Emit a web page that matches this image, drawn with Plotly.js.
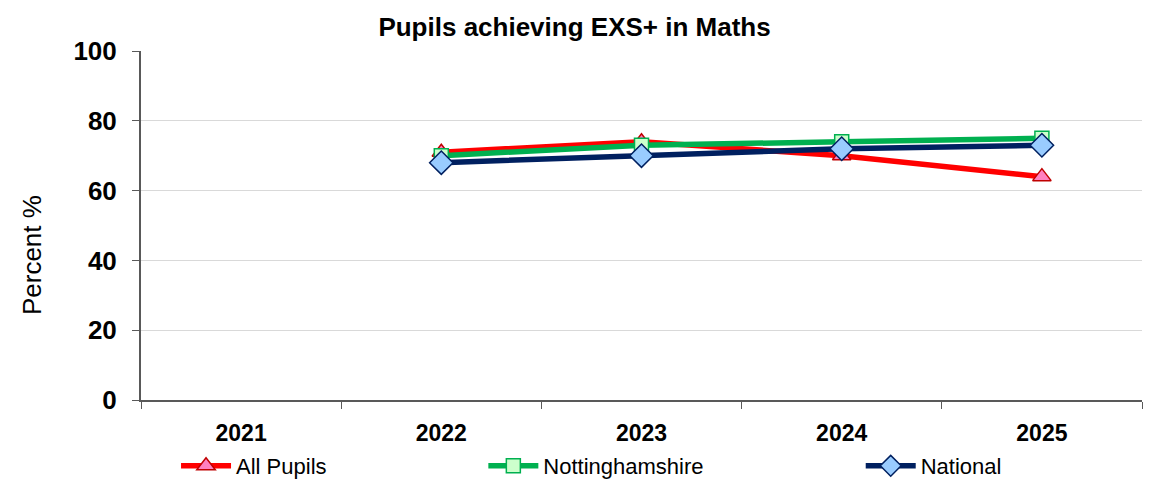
<!DOCTYPE html>
<html>
<head>
<meta charset="utf-8">
<script src="https://cdn.plot.ly/plotly-3.0.1.min.js"></script>
<style>html,body{margin:0;padding:0;background:#fff;}#chart{width:1156px;height:485px;}</style>
</head>
<body>
<div id="chart"></div>
<script>
const years = ['2021', '2022', '2023', '2024', '2025'];
const allPupils = [null, 71, 74, 70, 64];
const nottinghamshire = [null, 70, 73, 74, 75];
const national = [null, 68, 70, 72, 73];
const yTicks = [0, 20, 40, 60, 80, 100];
const yTitle = 'Percent %';

const FONT = 'Liberation Sans, Arial, sans-serif';

const traces = [
  {
    x: years, y: allPupils, name: 'All Pupils', type: 'scatter', mode: 'lines+markers',
    line: {color: '#FF0000', width: 5.5},
    marker: {symbol: 'triangle-up', size: 16, color: '#FF80C0', line: {color: '#C00000', width: 1.5}},
    legend: 'legend'
  },
  {
    x: years, y: nottinghamshire, name: 'Nottinghamshire', type: 'scatter', mode: 'lines+markers',
    line: {color: '#00B050', width: 5.5},
    marker: {symbol: 'square', size: 14, color: '#CCFFCC', line: {color: '#00B050', width: 1.5}},
    legend: 'legend2'
  },
  {
    x: years, y: national, name: 'National', type: 'scatter', mode: 'lines+markers',
    line: {color: '#002060', width: 5.5},
    marker: {symbol: 'diamond', size: 18, color: '#99CCFF', line: {color: '#002060', width: 1.5}},
    legend: 'legend3'
  }
];

const legendBase = {
  orientation: 'h', yanchor: 'middle', y: -0.189, xanchor: 'left',
  font: {family: FONT, size: 22, color: '#000'},
  bgcolor: 'rgba(0,0,0,0)', borderwidth: 0, itemwidth: 50
};

const layout = {
  width: 1156, height: 485,
  margin: {l: 141, r: 14, t: 51, b: 85, autoexpand: false},
  paper_bgcolor: '#ffffff', plot_bgcolor: '#ffffff',
  font: {family: FONT, color: '#000'},
  showlegend: true,
  title: {
    text: '<b>Pupils achieving EXS+ in Maths</b>',
    font: {family: FONT, size: 26, color: '#000'},
    x: 0.497, xanchor: 'center', y: 1 - 27/485, yanchor: 'middle'
  },
  xaxis: {
    type: 'category', range: [-0.5, 4.5], automargin: false,
    tickson: 'boundaries', ticks: 'outside', ticklen: 7, tickcolor: '#595959', tickwidth: 1,
    showline: true, linecolor: '#595959', linewidth: 1.5,
    showgrid: false, zeroline: false, ticklabelstandoff: 12,
    tickfont: {family: FONT, size: 23, color: '#000'},
    tickprefix: '<b>', ticksuffix: '</b>'
  },
  yaxis: {
    range: [0, 100], tickvals: yTicks, ticktext: yTicks.map(v => '<b>' + v + '</b>'),
    automargin: false,
    ticks: 'outside', ticklen: 7, tickcolor: '#595959', tickwidth: 1,
    showline: true, linecolor: '#595959', linewidth: 2, ticklabelstandoff: 10,
    showgrid: true, gridcolor: '#D9D9D9', gridwidth: 1, zeroline: false,
    tickfont: {family: FONT, size: 26, color: '#000'}
  },
  annotations: [{
    text: yTitle, xref: 'paper', yref: 'paper', x: -0.109, y: 0.415,
    xanchor: 'center', yanchor: 'middle', textangle: -90, showarrow: false,
    font: {family: FONT, size: 26, color: '#000'}
  }],
  legend: Object.assign({}, legendBase, {x: 0.035}),
  legend2: Object.assign({}, legendBase, {x: 0.342}),
  legend3: Object.assign({}, legendBase, {x: 0.719})
};

Plotly.newPlot('chart', traces, layout, {displayModeBar: false, staticPlot: true});
</script>
</body>
</html>
